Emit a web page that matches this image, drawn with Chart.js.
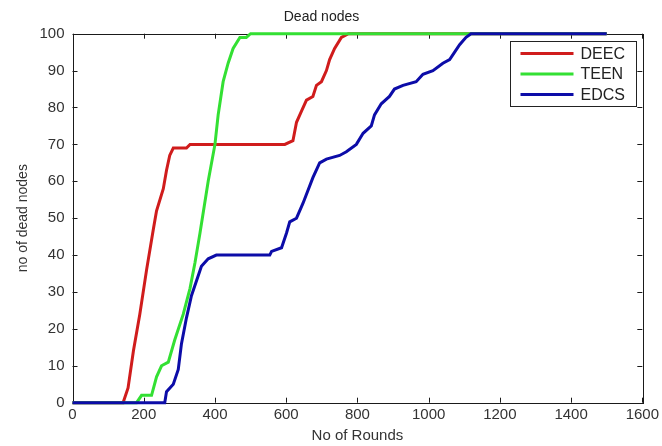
<!DOCTYPE html>
<html>
<head>
<meta charset="utf-8">
<script src="https://cdn.jsdelivr.net/npm/chart.js@4/dist/chart.umd.min.js"></script>
<style>
  html, body { margin: 0; padding: 0; background: #fff; }
</style>
</head>
<body>
<canvas id="deadChart" width="662" height="446"></canvas>
<script>
// values
const deecRounds = [0, 142, 156, 171, 189, 208, 227, 236, 255, 264, 273, 283, 320, 330, 596, 619, 629, 643, 657, 675, 685, 699, 713, 722, 736, 755, 775, 1500];
const deecDead   = [0, 0, 4, 14, 24, 36, 47, 52, 58, 63, 67, 69, 69, 70, 70, 71, 76, 79, 82, 83, 86, 87, 90, 93, 96, 99, 100, 100];

const teenRounds = [0, 180, 194, 222, 236, 250, 269, 287, 311, 330, 344, 358, 381, 400, 409, 423, 437, 451, 470, 488, 500, 1500];
const teenDead   = [0, 0, 2, 2, 7, 10, 11, 17, 24, 31, 38, 46, 60, 70, 78, 87, 92, 96, 99, 99, 100, 100];

const edcsRounds = [0, 259, 264, 283, 297, 306, 320, 334, 348, 362, 381, 404, 554, 559, 587, 601, 610, 629, 647, 675, 694, 713, 750, 769, 797, 816, 839, 848, 867, 890, 904, 928, 965, 984, 1012, 1040, 1059, 1073, 1087, 1105, 1119, 1500];
const edcsDead   = [0, 0, 3, 5, 9, 16, 23, 29, 33, 37, 39, 40, 40, 41, 42, 46, 49, 50, 54, 61, 65, 66, 67, 68, 70, 73, 75, 78, 81, 83, 85, 86, 87, 89, 90, 92, 93, 95, 97, 99, 100, 100];

const seriesNames  = ['DEEC', 'TEEN', 'EDCS'];
const seriesColors = ['#d01c1c', '#33e033', '#0c0ca8'];

function toPoints(xs, ys) {
    return xs.map((x, i) => ({ x: x, y: ys[i] }));
}

// matlab style box with ticks pointing inward
const axesBox = {
    id: 'axesBox',
    beforeDatasetsDraw(chart) {
        const { ctx, chartArea: a, scales: { x, y } } = chart;
        ctx.save();
        ctx.strokeStyle = '#1a1a1a';
        ctx.lineWidth = 1;
        ctx.strokeRect(Math.round(a.left) + 0.5, Math.round(a.top) + 0.5,
                       Math.round(a.right - a.left), Math.round(a.bottom - a.top));
        ctx.beginPath();
        x.ticks.forEach(t => {
            let px = Math.round(x.getPixelForValue(t.value)) + 0.5;
            ctx.moveTo(px, a.bottom); ctx.lineTo(px, a.bottom - 5);
            ctx.moveTo(px, a.top); ctx.lineTo(px, a.top + 5);
        });
        y.ticks.forEach(t => {
            let py = Math.round(y.getPixelForValue(t.value)) + 0.5;
            ctx.moveTo(a.left, py); ctx.lineTo(a.left + 5, py);
            ctx.moveTo(a.right, py); ctx.lineTo(a.right - 5, py);
        });
        ctx.stroke();
        ctx.restore();
    }
};

// legend box inside the plot, top right
const boxLegend = {
    id: 'boxLegend',
    afterDatasetsDraw(chart) {
        const { ctx, chartArea: a } = chart;
        const w = 126, h = 65;
        const left = Math.round(a.right - 6 - w) + 0.5, top = Math.round(a.top + 7) + 0.5;
        ctx.save();
        ctx.fillStyle = '#fff';
        ctx.fillRect(left, top, w, h);
        ctx.strokeStyle = '#222';
        ctx.lineWidth = 1;
        ctx.strokeRect(left, top, w, h);
        ctx.font = '16px "Liberation Sans", Arial, sans-serif';
        ctx.textBaseline = 'middle';
        seriesNames.forEach((name, i) => {
            let cy = top + 12 + i * 20.5;
            ctx.strokeStyle = seriesColors[i];
            ctx.lineWidth = 3;
            ctx.beginPath();
            ctx.moveTo(left + 10, cy);
            ctx.lineTo(left + 63, cy);
            ctx.stroke();
            ctx.fillStyle = '#222';
            ctx.fillText(name, left + 70, cy + 1);
        });
        ctx.restore();
    }
};

// later series sit on top, as in the original plot
const datasets = [
    toPoints(deecRounds, deecDead),
    toPoints(teenRounds, teenDead),
    toPoints(edcsRounds, edcsDead)
].map((pts, i) => ({
    label: seriesNames[i],
    data: pts,
    order: 3 - i,
    borderColor: seriesColors[i],
    backgroundColor: seriesColors[i],
    borderWidth: 3,
    pointRadius: 0,
    tension: 0,
    fill: false,
    clip: false
}));

const font = '"Liberation Sans", Arial, sans-serif';

new Chart(document.getElementById('deadChart').getContext('2d'), {
    type: 'line',
    data: { datasets: datasets },
    options: {
        responsive: false,
        animation: false,
        layout: { padding: { left: 0, right: 19, top: 0, bottom: 0 } },
        plugins: {
            legend: { display: false },
            tooltip: { enabled: false },
            title: {
                display: true,
                text: 'Dead nodes',
                color: '#222',
                font: { family: font, size: 14, weight: 'normal' },
                padding: { top: 9, bottom: 7.9 }
            }
        },
        scales: {
            x: {
                type: 'linear',
                min: 0, max: 1600,
                ticks: { stepSize: 200, color: '#333', padding: 3, maxRotation: 0,
                         font: { family: font, size: 15 },
                         callback: v => String(v) },
                grid: { display: false, drawTicks: false },
                border: { display: false },
                title: { display: true, text: 'No of Rounds', color: '#333',
                         font: { family: font, size: 15 }, padding: { top: 0, bottom: 1.5 } },
                afterFit(scale) { scale.height = 43.3; }
            },
            y: {
                min: 0, max: 100,
                ticks: { stepSize: 10, color: '#333', padding: 8,
                         font: { family: font, size: 15 },
                         callback: v => String(v) },
                grid: { display: false, drawTicks: false },
                border: { display: false },
                title: { display: true, text: 'no of dead nodes', color: '#333',
                         font: { family: font, size: 14 }, padding: { top: 15, bottom: 0 } },
                afterFit(scale) { scale.width = 72.5; }
            }
        }
    },
    plugins: [axesBox, boxLegend]
});
</script>
</body>
</html>
